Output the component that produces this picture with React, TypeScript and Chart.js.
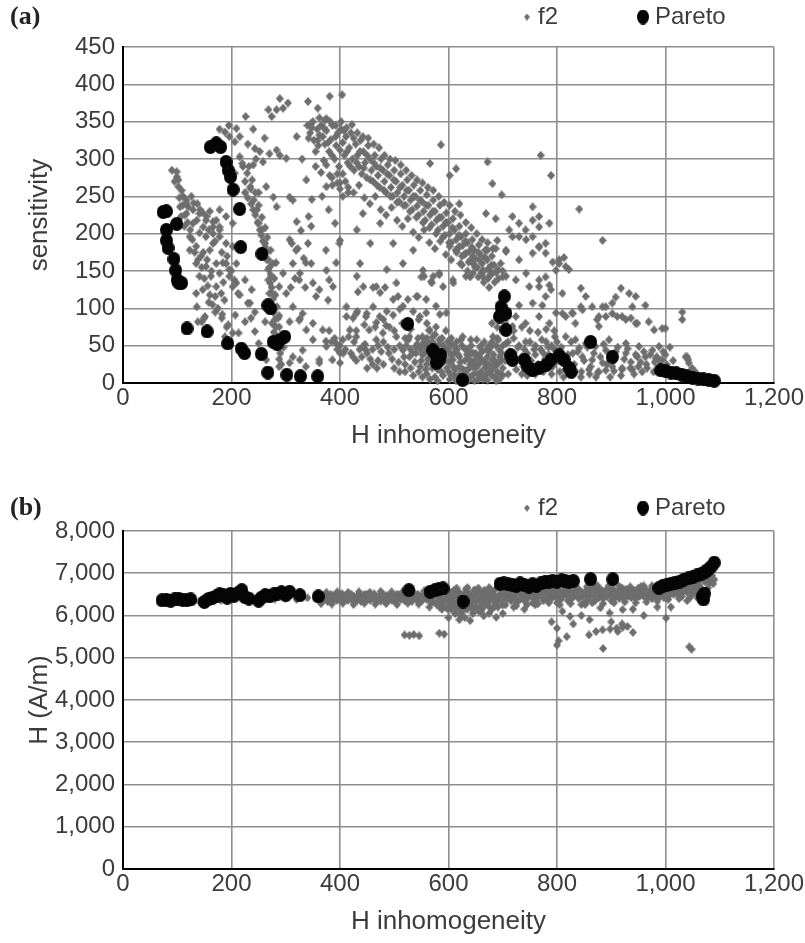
import React, { useEffect, useRef } from "react";
import { Chart, registerables } from "chart.js";

Chart.register(...registerables);

// ---- Panel (a): sensitivity vs H inhomogeneity ----
const sensitivityF2: [number, number][] = [
  // upper arch
  [178,340],[188,336],[196,330],[206,323],[209,341],[215,330],[226,357],[240,340],[243,314],[252,310],[261,328],[268,366],[274,357],[283,366],[295,368],[289,381],[304,375],[270,307],[283,312],[289,305],[301,301],[341,377],[359,368],[375,354],[381,384],[404,386],[215,303],[221,290],[240,292],[258,296],[206,281],[264,263],[277,249],[283,236],[307,249],[313,245],[338,272],[347,348],[359,325],[370,298],[381,278],[386,265],[400,268],[375,263],[195,345],[230,320],[245,300],[320,330],[330,300],[225,270],[235,260],[250,255],
  // long diagonal band
  [340,345],[345,335],[350,350],[352,325],[358,340],[360,318],[355,310],
  [365,345],[368,330],[372,320],[375,338],[380,310],[383,326],[386,345],[390,300],[393,318],[396,335],[398,290],
  [402,340],[405,322],[408,305],[411,330],[414,295],[417,315],[420,335],[423,300],[426,285],[429,320],[432,305],[435,290],[438,325],[440,280],
  [443,310],[446,295],[449,275],[452,318],[455,300],[458,285],[461,270],[464,305],[467,290],[470,278],[473,262],[476,300],[479,285],
  [482,270],[485,255],[488,292],[491,278],[494,262],[497,250],[500,285],[503,270],[506,255],[509,243],[512,280],[515,265],[518,250],
  [521,238],[524,272],[527,258],[530,245],[533,232],[536,265],[539,250],[542,237],[545,225],[548,258],[551,243],[554,230],[557,218],
  [560,252],[563,238],[566,225],[569,212],[572,245],[575,230],[578,218],[581,205],[584,238],[587,222],[590,210],[593,198],[596,228],[599,215],
  [602,200],[605,188],[608,220],[611,205],[614,192],[617,180],[620,210],[623,196],[626,184],[629,172],[632,200],[635,188],[638,176],[641,165],[644,192],[647,178],
  [650,166],[653,155],[656,185],[659,172],[662,160],[665,150],[668,178],[671,165],[674,154],[677,145],[680,170],[684,158],[688,148],[692,140],[696,160],[700,150],
  [342,328],[348,342],[362,332],[370,342],[378,322],[385,305],[392,330],[400,312],[407,338],[413,310],[419,290],[425,328],[431,295],[437,310],[444,288],[450,305],[456,272],[462,295],[468,265],[474,288],[481,258],[487,280],[493,250],[499,272],[505,242],[511,262],[517,238],[523,258],[529,230],[535,250],[541,222],[547,245],[553,215],[559,238],[565,208],[571,230],[577,200],[583,222],[589,195],[595,215],[601,188],[607,208],[613,178],[619,198],[625,170],[631,190],[637,162],[643,182],[649,155],[655,175],[661,148],[667,168],[673,140],[679,158],[685,135],[691,152],
  [355,290],[365,282],[375,292],[385,275],[395,268],[405,280],[415,262],[425,255],[435,265],[445,248],[455,240],[465,250],[475,232],[485,225],[495,235],[505,218],[515,210],[525,220],[535,202],[545,195],[555,205],[565,188],[575,180],[585,190],[595,172],[605,165],[615,175],[625,158],[635,150],[645,160],[655,142],[665,135],[675,128],
  [362,355],[372,352],[382,350],[392,345],[402,350],[412,342],[422,346],[432,335],[442,330],[452,328],[462,320],[472,315],[482,305],[492,300],[502,298],[512,292],[522,285],[532,278],[542,272],[552,268],[562,262],[572,258],[582,250],[592,242],[602,238],[612,230],[622,225],[632,215],[642,208],[652,200],[662,192],[672,188],[682,180],
  [400,260],[405,250],[410,270],[395,280],[415,255],
  // scattered middle
  [442,227],[431,205],[456,187],[474,214],[498,187],[516,160],[535,178],[553,151],[572,143],[590,129],[486,152],[504,134],[467,129],[443,129],[431,143],[437,160],[541,116],[559,112],[577,103],[596,94],[516,103],[498,112],[474,121],
  [348,246],[342,223],[367,250],[379,232],[391,214],
  [320,216],[328,204],[311,187],[341,187],[347,210],[322,180],[333,167],[347,160],[375,151],[387,129],[400,191],[350,134],[326,147],[313,160],[317,140],[309,128],[336,128],[356,116],[378,111],[412,102],[430,93],[448,89],[467,81],[485,77],[307,82],[326,86],[338,71],[350,58],[375,49],[400,40],[362,31],[326,31],[307,27],[400,27],[424,35],[448,44],
  [136,102],[151,89],[145,82],[191,75],[202,67],[234,107],[236,87],[215,118],[209,134],[196,152],[184,161],[282,161],[295,147],[288,129],[301,120],[313,102],[331,93],[325,84],[350,80],[368,71],[374,56],[393,53],[331,44],[313,35],[288,22],[337,22],[362,27],[386,31],[264,31],[258,40],[276,80],[288,75],[362,125],[380,138],[393,161],[374,178],[399,187],[337,161],[319,178],[307,192],[325,138],
  // left loop
  [90,285],[99,276],[102,263],[111,250],[120,236],[129,232],[141,227],[153,218],[166,209],[178,196],[190,187],[107,223],[113,210],[123,196],[135,183],[144,170],[153,156],[162,143],[172,129],[181,120],[187,111],[117,241],[129,214],[141,201],[123,178],[135,160],[141,143],[147,125],[135,120],[160,178],[172,160],[178,147],[166,187],[153,196],[190,160],[196,143],[202,129],[209,160],[202,183],[190,223],[202,214],[178,232],
  [99,283],[102,272],[108,258],[117,245],[130,241],[142,232],[154,223],[166,216],[178,209],[105,236],[117,227],[136,218],[148,209],[166,200],[178,205],
  [95,270],[104,248],[110,238],[114,225],[119,215],[124,205],[128,192],[132,175],[138,165],[145,155],[150,140],[156,130],[160,118],[165,105],[175,100],[183,92],[126,250],[137,240],[147,228],[158,205],[170,190],[182,175],[192,170],[200,150],[205,138],[212,120],[148,175],[155,165],[163,150],[185,135],[160,230],[172,218],
  [158,108],[170,95],[182,87],[194,78],[207,91],[225,82],[243,69],[188,62],[213,67],[250,53],[170,116],[150,87],[138,82],
  // descending arm
  [220,294],[229,281],[235,263],[241,245],[247,232],[250,214],[256,205],[262,187],[265,165],[268,152],[271,134],[274,121],[277,95],[286,87],[262,82],[243,95],[230,107],[237,125],[225,138],
  [225,255],[230,248],[236,240],[240,232],[244,225],[248,215],[252,205],[255,198],[258,190],[262,182],[265,175],[268,165],[270,155],[272,145],[268,138],[274,128],[270,120],[276,112],[278,95],[280,85],[282,75],[278,68],[285,48],[290,40],[288,32],[292,25],[283,55],[275,80],
  [232,290],[238,272],[244,255],[250,238],[256,222],[262,208],[266,195],[272,178],[276,160],[279,140],[281,118],[284,102],[288,90],[292,62],[296,48],
  // right cluster and outliers
  [586,319],[672,296],[770,305],[789,278],[841,233],[884,191],[614,287],[602,278],[566,294],[681,267],[698,252],[620,240],[669,227],[687,220],[690,191],[672,178],[706,178],[664,142],[640,142],[622,160],[602,183],[583,145],[555,143],[569,134],[609,134],
  [718,223],[730,214],[742,205],[755,196],[767,182],[779,174],[730,196],[712,205],[755,218],[767,209],[786,214],[755,236],[767,223],[792,162],[804,165],[816,156],[798,151],[779,142],[767,129],
  [675,151],[700,142],[724,138],[749,129],
  [620,183],[632,174],[645,170],[657,165],[669,178],[687,180],[706,176],[718,196],[743,192],[730,165],[755,174],[767,183],[779,187],[743,147],[767,138],[786,131],[645,147],[663,151],[681,147],[706,143],[632,143],[608,138],
  [433,122],[461,128],[483,128],[507,116],[525,112],[543,116],[550,142],[568,136],[583,147],
  [412,89],[432,96],[461,102],[486,96],[510,99],[535,96],[559,94],[584,92],[424,87],[449,93],[473,89],[498,91],[547,89],
  // lower dense band
  [405,58],[418,71],[430,62],[442,49],[454,71],[467,58],[479,67],[491,75],[504,62],[516,44],[528,35],[540,49],[552,62],[565,71],[577,75],[583,58],[596,44],[608,31],[620,22],[632,17],[645,26],[657,35],[669,22],[681,31],[694,44],[706,53],
  [844,127],[853,116],[884,102],[902,107],[918,127],[933,120],[945,116],[963,104],[939,102],[890,89],[911,89],[927,85],[945,80],[979,71],[994,73],[1031,95],[1031,85],[1037,35],[1042,31],
  [789,125],[810,120],[779,116],[755,107],[730,104],[773,104],[798,94],[810,93],[828,94],[844,102],[874,85],[877,76],[786,80],[767,89],[742,80],[724,89],[718,76],
  [804,160],[813,168],[822,152],[847,98],[829,93],[816,89],[834,80],[877,89],[902,93],[920,89],[936,87],[948,80],[969,82],[1000,73],[908,115],[890,102],[865,102],
  [816,62],[834,58],[853,53],[871,49],[890,44],[908,42],[927,40],[945,38],[963,35],[982,33],[994,31],[829,40],[847,35],[865,31],[884,27],[902,22],[920,20],[939,18],[957,15],[859,18],[877,15],[841,47],[896,58],[927,53],[951,49],[976,44],[988,49],[1000,38],[1040,35],[1043,27],[1049,20],[1055,15],
  [560,60],[570,55],[590,50],[600,45],[610,40],[620,35],[630,30],[640,25],[650,20],[660,15],[670,12],[600,15],[610,10],[620,12],[640,8],[655,5],[665,8],[680,10],[690,15],[700,20],[540,40],[550,30],[560,25],[570,20],[545,15],[555,55],[565,70],[575,65],[595,70],[605,60],[615,55],[625,50],[635,45],[645,40],[655,35],[665,30],[675,25],[685,30],[695,35],[660,50],[670,45],[680,55],[690,60],[700,50],[710,55],[720,60],[730,50],[740,45],[750,55],[760,50],[770,45],[780,55],[790,50],[800,55],[720,40],[735,35],[745,40],[760,38],[775,40],[785,38],[795,45],[720,70],[735,75],[750,70],[765,68],[780,72],[795,70],[705,80],[690,75],[680,80],[700,10],[710,12],[725,18],[735,12],[745,10],[760,12],[775,15],[790,12],[805,15],[815,18],[830,12],[845,15],[860,12],[875,14],[890,17],[905,16],[920,18],[935,20],[950,22],[965,25],[980,28],[990,30],[520,60],[510,50],[500,45],[490,40],[480,55],[470,50],[460,45],[450,40],[440,35],[430,30],[420,40],[410,45],[400,50],[390,60],[380,70],[470,30],[480,25],[500,20],[510,15],[520,25],[530,20],[460,25],[450,20],[500,70],[515,80],[530,72],[545,85],[560,80],[480,85],[465,75],[445,78],[430,70],
  [542,52],[548,45],[552,38],[558,48],[562,32],[566,42],[572,28],[576,50],[580,18],[586,25],[588,60],[592,35],[597,20],[603,28],[606,52],[612,18],[616,45],[622,28],[626,62],[628,8],[634,38],[636,18],[642,50],[646,12],[648,30],[652,58],[656,25],[662,42],[664,5],[668,20],[672,35],[676,15],[678,48],[684,22],[686,8],[692,28],[696,12],[698,40],[602,5],[614,3],[636,3],[648,3],[672,4],[688,3],[590,10],[575,8],[560,12],[548,22],[530,45],[526,58],[518,35],[508,28],[496,32],[488,48],[476,42],[468,20],[456,32],[446,52],[436,45],[426,55],[416,62],[406,40],[395,45],[384,55],
  [522,50],[528,62],[534,40],[538,28],[544,60],[550,50],[556,40],[561,55],[567,35],[571,62],[578,42],[583,52],[587,15],[593,45],[598,55],[604,38],[609,22],[611,48],[618,38],[623,58],[627,18],[631,45],[638,32],[641,58],[644,22],[650,40],[654,12],[658,48],[661,30],[666,55],[670,25],[674,42],[680,18],[683,38],[688,50],[690,25],[694,5],[698,30],[604,12],[596,30],[584,40],[570,45],[558,18],[616,8],[630,12],[642,40],[660,8],[675,50],[682,62],[692,58],[520,15],[535,10],[552,8],[566,5],[580,3],
  [705,30],[712,42],[722,28],[728,48],[738,22],[742,55],[752,30],[758,45],[765,25],[772,58],[778,32],[784,48],[792,22],[796,62],[802,30],[808,48],[812,8],[820,38],[826,55],[832,25],[838,42],[844,8],[850,30],[856,48],[862,22],[868,40],[872,8],[880,35],[886,52],[892,25],[898,8],[905,30],[912,48],[918,10],[924,32],[930,46],[936,28],[942,12],[948,35],[954,28],[960,42],[966,20],[972,38],[978,15],[984,35],[990,22],[996,42],[1002,25],[1008,48],[1014,30],
];

const sensitivityPareto: [number, number][] = [
  [74,229],[80,230],[99,213],[80,205],[80,191],[83,181],[94,166],[97,151],[100,138],[108,134],[103,134],[118,73],[155,69],
  [161,316],[172,321],[180,316],[190,296],[194,285],[198,276],[203,259],[215,233],[217,182],[256,173],
  [193,53],[218,46],[224,40],[255,39],[267,104],[272,100],[267,14],[277,55],[289,58],[298,62],[284,52],[302,11],[327,9],[359,9],
  [525,79],[571,44],[580,36],[583,31],[578,27],[575,40],[585,38],[626,4],
  [703,116],[697,102],[706,93],[694,89],[706,71],[715,37],[718,31],[740,31],[746,22],[755,17],[767,20],[780,24],[789,31],
  [804,37],[813,31],[823,20],[826,15],[862,55],[902,35],
  [991,17],[1000,16],[1010,14],[1020,13],[1030,11],[1040,9],[1050,7],[1060,6],[1070,5],[1080,4],[1090,3],
];

// ---- Panel (b): H (A/m) vs H inhomogeneity ----
const fieldF2: [number, number][] = [
  [100,6330],[120,6360],[140,6340],[160,6380],[180,6360],[200,6400],[220,6380],[240,6370],[260,6400],[280,6390],[300,6410],[320,6380],[340,6420],[150,6420],[250,6450],[330,6460],
  [360,6420],[370,6380],[380,6450],[390,6400],[400,6430],[410,6370],[420,6460],[430,6410],[440,6380],[450,6440],[460,6400],[470,6360],[480,6450],[490,6410],[500,6380],[510,6440],[520,6400],[530,6350],[540,6460],[550,6420],[560,6380],[365,6480],[385,6350],[405,6490],[425,6340],[445,6500],[465,6470],[485,6340],[505,6500],[525,6480],[545,6330],[555,6510],
  [362,6350],[368,6440],[374,6500],[378,6390],[384,6430],[388,6470],[394,6360],[398,6450],[404,6400],[408,6350],[412,6480],[416,6420],[422,6390],[426,6450],[432,6360],[436,6470],[442,6420],[447,6350],[452,6400],[456,6480],[462,6430],[466,6390],[472,6450],[476,6410],[482,6370],[486,6480],[492,6440],[496,6350],[502,6420],[506,6460],[512,6380],[516,6490],[522,6430],[527,6370],[532,6410],[536,6500],[542,6390],[547,6440],[552,6360],[557,6470],
  [363,6400],[371,6460],[377,6330],[383,6500],[391,6440],[397,6380],[403,6510],[409,6440],[415,6360],[421,6500],[427,6400],[433,6470],[439,6330],[443,6450],[449,6500],[455,6360],[459,6440],[463,6510],[469,6420],[475,6340],[479,6500],[483,6420],[489,6360],[493,6500],[499,6450],[503,6330],[509,6480],[513,6420],[519,6350],[523,6510],[529,6450],[533,6340],[539,6420],[544,6500],[549,6370],[553,6450],[559,6530],
  [365,6280],[385,6270],[405,6290],[425,6260],[445,6290],[465,6270],[485,6280],[505,6260],[525,6290],[545,6270],[375,6550],[395,6560],[415,6550],[435,6560],[455,6550],[475,6570],[495,6560],[515,6560],[535,6570],[555,6580],
  [570,6500],[575,6300],[580,6450],[585,6250],[590,6550],[595,6200],[600,6500],[600,6350],[605,6150],[610,6450],[612,6050],[615,6300],[620,6550],[622,6000],[625,6250],[628,6400],[630,5950],[635,6150],[640,6500],[640,6300],[645,6050],[650,6600],[650,6200],[655,6400],[660,6100],[665,6550],[670,6300],[675,6450],[680,6150],[685,6600],[690,6350],[695,6500],[700,6250],[590,6350],[610,6600],[632,6620],[660,6480],[675,6050],[700,6050],[688,5960],[640,5880],[620,5900],[665,5990],[600,5950],
  [562,6550],[566,6400],[568,6300],[572,6450],[578,6600],[582,6350],[586,6480],[588,6150],[592,6420],[597,6580],[602,6280],[606,6420],[608,6550],[613,6200],[617,6450],[618,6350],[624,6480],[626,6100],[631,6380],[634,6550],[637,6250],[642,6420],[644,6150],[648,6480],[652,6330],[657,6550],[658,6200],[662,6420],[667,6380],[672,6500],[674,6220],[678,6580],[682,6400],[686,6280],[692,6450],[696,6350],[698,6600],
  [563,6450],[569,6350],[574,6550],[579,6250],[583,6500],[589,6300],[594,6450],[599,6150],[604,6550],[609,6300],[614,6500],[619,6150],[623,6350],[629,6500],[633,6250],[638,6450],[643,6350],[647,6600],[653,6450],[656,6100],[661,6300],[666,6600],[671,6450],[676,6350],[681,6550],[687,6450],[691,6200],[697,6400],
  [565,6200],[585,6180],[605,6230],[625,6180],[645,6220],[665,6200],[685,6220],[575,6620],[595,6640],[615,6650],[635,6660],[655,6650],[675,6660],[695,6680],
  [705,6600],[710,6450],[715,6350],[720,6550],[725,6300],[730,6650],[735,6450],[740,6350],[745,6600],[750,6500],[755,6300],[760,6650],[765,6450],[770,6550],[775,6350],[780,6700],[785,6500],[790,6400],[795,6600],[800,6300],[805,6550],[810,6450],[815,6650],[820,6350],[825,6550],[830,6450],[835,6650],[840,6400],[845,6550],[850,6300],[855,6600],[860,6450],[865,6550],[870,6350],[875,6650],[880,6500],[885,6400],[890,6600],[895,6500],[900,6350],[905,6600],[910,6500],[915,6400],[920,6650],[925,6550],[930,6450],[935,6600],[940,6500],[945,6400],[950,6650],[955,6550],[960,6450],[965,6600],[970,6500],[975,6400],[980,6650],[985,6550],[990,6450],[995,6600],[1000,6500],[720,6200],[740,6150],[760,6250],[725,6700],[870,6700],[900,6700],[960,6700],
  [702,6500],[707,6380],[712,6600],[717,6480],[722,6420],[727,6560],[732,6380],[737,6600],[742,6480],[747,6420],[752,6580],[757,6480],[762,6380],[767,6620],[772,6450],[777,6550],[782,6400],[787,6620],[792,6520],[797,6450],[802,6620],[807,6380],[812,6550],[817,6480],[822,6620],[827,6400],[832,6550],[837,6500],[842,6600],[847,6450],[852,6550],[857,6380],[862,6620],[867,6480],[872,6550],[877,6420],[882,6600],[887,6500],[892,6450],[897,6620],[902,6480],[907,6420],[912,6580],[917,6500],[922,6420],[927,6620],[932,6520],[937,6420],[942,6600],[947,6520],[952,6450],[957,6600],[962,6520],[967,6420],[972,6600],[977,6520],[982,6450],[987,6600],[992,6520],[997,6420],
  [704,6450],[714,6500],[724,6500],[734,6550],[744,6500],[754,6450],[764,6550],[774,6480],[784,6580],[794,6500],[804,6480],[814,6580],[824,6500],[834,6580],[844,6500],[854,6480],[864,6600],[874,6520],[884,6560],[894,6560],[904,6540],[914,6480],[924,6500],[934,6560],[944,6560],[954,6500],[964,6550],[974,6560],[984,6500],[994,6550],
  [705,6250],[725,6230],[745,6260],[765,6280],[785,6300],[805,6250],[825,6280],[845,6260],[865,6300],[885,6280],[905,6300],[925,6320],[945,6300],[965,6320],[985,6340],[715,6700],[735,6690],[755,6700],[775,6660],[795,6700],[815,6700],[835,6700],[855,6680],[875,6700],[895,6700],[915,6690],[935,6680],[955,6690],[975,6700],[995,6680],
  [1005,6450],[1010,6600],[1015,6500],[1020,6700],[1025,6550],[1030,6450],[1035,6650],[1040,6550],[1045,6750],[1050,6600],[1055,6500],[1060,6800],[1065,6650],[1070,6550],[1075,6900],[1080,6750],[1085,6950],[1090,6850],[1060,6400],[1040,6350],
  [1002,6600],[1008,6520],[1012,6700],[1018,6600],[1022,6500],[1028,6650],[1032,6550],[1038,6700],[1042,6620],[1048,6520],[1052,6700],[1058,6620],[1062,6720],[1068,6600],[1072,6800],[1078,6650],[1082,6850],[1088,6750],
  [1005,6380],[1025,6400],[1045,6420],[1065,6500],
  [519,5540],[528,5530],[536,5550],[546,5520],[583,5580],[592,5560],[800,5700],[803,5400],[818,5500],[824,5980],[800,5300],[852,6260],[880,6180],[897,6060],[859,5540],[872,5620],[884,5660],[898,5680],[910,5700],[921,5720],[930,5740],[921,6140],[885,5220],[912,5620],[920,5800],[940,5600],[1044,5260],[1048,5200],[1001,5940],[1010,6200],[790,5850],[810,6100],[830,5800],[845,6000],[860,5900],[900,5850],[940,6150],[960,6000],[985,6200],
];

const fieldPareto: [number, number][] = [
  [72,6360],[80,6370],[88,6350],[95,6380],[102,6400],[110,6370],[118,6360],[125,6380],[150,6320],[158,6390],[165,6420],[172,6450],[178,6500],[185,6480],[192,6420],[198,6510],[205,6470],[212,6530],[219,6600],[225,6440],[232,6400],[250,6350],[255,6420],[262,6480],[270,6450],[278,6500],[285,6520],[292,6550],[300,6480],[307,6560],[326,6480],[360,6450],
  [527,6600],[566,6560],[575,6600],[582,6620],[590,6640],[627,6330],
  [695,6750],[702,6760],[710,6740],[718,6720],[725,6700],[732,6760],[740,6720],[748,6680],[755,6740],[762,6700],[770,6760],[778,6790],[785,6800],[792,6820],[800,6800],[808,6830],[815,6810],[822,6800],[830,6820],[862,6860],[903,6860],
  [988,6650],[995,6700],[1002,6720],[1010,6750],[1018,6780],[1026,6800],[1034,6850],[1042,6880],[1050,6900],[1058,6950],[1066,6980],[1072,7020],[1078,7080],[1084,7150],[1090,7250],[1068,6450],[1070,6380],[1072,6520],
];

const xRange = [0, 1200];
const xStep = 200;
const xTitle = "H inhomogeneity";
const seriesNames = ["f2", "Pareto"];

const SANS = "'Liberation Sans Narrow', 'Liberation Sans', Arial, sans-serif";
const TEXT = "#3c3c3c";
const GRID = "#8e8e8e";
const F2_COLOR = "#6e6e6e";

function marker(w: number, h: number, color: string, shape: "diamond" | "ellipse") {
  const c = document.createElement("canvas");
  c.width = w;
  c.height = h;
  const g = c.getContext("2d")!;
  g.fillStyle = color;
  g.beginPath();
  if (shape === "diamond") {
    g.moveTo(w / 2, 0);
    g.lineTo(w, h / 2);
    g.lineTo(w / 2, h);
    g.lineTo(0, h / 2);
    g.closePath();
  } else {
    g.ellipse(w / 2, h / 2, w / 2, h / 2, 0, 0, Math.PI * 2);
  }
  g.fill();
  return c;
}

const fmt = (v: number | string) => Number(v).toLocaleString("en-US");

interface PanelProps {
  label: string;
  yTitle: string;
  yMax: number;
  yStep: number;
  f2: [number, number][];
  pareto: [number, number][];
  height: number;
  areaTop: number;
  areaBottom: number;
  headerY: number;
}

function Panel(p: PanelProps) {
  const ref = useRef<HTMLCanvasElement>(null);
  useEffect(() => {
    const canvas = ref.current!;
    const f2Img = marker(8, 9, F2_COLOR, "diamond");
    const parImg = marker(13, 14, "#050505", "ellipse");
    const legF2 = marker(6, 7, F2_COLOR, "diamond");
    const legPar = marker(12, 15, "#050505", "ellipse");

    const header = {
      id: "panelHeader",
      afterDraw(chart: Chart) {
        const ctx = chart.ctx;
        ctx.save();
        ctx.textBaseline = "middle";
        ctx.fillStyle = "#222";
        ctx.font = "bold 26px 'Liberation Serif', serif";
        ctx.fillText(p.label, 10, p.headerY);
        ctx.drawImage(legF2, 527 - 3, p.headerY - 3.5);
        ctx.drawImage(legPar, 643 - 6, p.headerY - 7.5);
        ctx.fillStyle = TEXT;
        ctx.font = `24px ${SANS}`;
        ctx.fillText(seriesNames[0], 538, p.headerY);
        ctx.fillText(seriesNames[1], 655, p.headerY);
        ctx.restore();
      },
    };

    const chart = new Chart(canvas, {
      type: "scatter",
      data: {
        datasets: [
          {
            label: seriesNames[1],
            data: p.pareto.map(([x, y]) => ({ x, y })),
            pointStyle: parImg as any,
            pointRadius: 6,
            order: 0,
            clip: false as any,
          },
          {
            label: seriesNames[0],
            data: p.f2.map(([x, y]) => ({ x, y })),
            pointStyle: f2Img as any,
            pointRadius: 3,
            order: 1,
            clip: false as any,
          },
        ],
      },
      options: {
        responsive: false,
        animation: false,
        events: [],
        layout: { padding: { left: 0, right: 30, top: p.areaTop, bottom: 0 } },
        plugins: { legend: { display: false }, tooltip: { enabled: false } },
        scales: {
          x: {
            type: "linear",
            min: xRange[0],
            max: xRange[1],
            ticks: {
              stepSize: xStep,
              callback: (v: any) => fmt(v),
              font: { family: SANS, size: 24 },
              color: TEXT,
              padding: 1,
              maxRotation: 0,
              autoSkip: false,
            },
            grid: { color: GRID, lineWidth: 1.6, drawTicks: false },
            border: { display: true, color: "#000", width: 2 },
            title: {
              display: true,
              text: xTitle,
              font: { family: SANS, size: 26 },
              color: TEXT,
              padding: { top: 0, bottom: 6 },
            },
            afterFit: (s: any) => {
              s.height = p.height - p.areaBottom;
            },
          },
          y: {
            type: "linear",
            min: 0,
            max: p.yMax,
            ticks: {
              stepSize: p.yStep,
              callback: (v: any) => fmt(v),
              font: { family: SANS, size: 24 },
              color: TEXT,
              padding: 8,
            },
            grid: { color: GRID, lineWidth: 1.6, drawTicks: false },
            border: { display: true, color: "#000", width: 2 },
            title: {
              display: true,
              text: p.yTitle,
              font: { family: SANS, size: 26 },
              color: TEXT,
              padding: { top: 24, bottom: 0 },
            },
            afterFit: (s: any) => {
              s.width = 123;
            },
          },
        },
      },
      plugins: [header],
    });
    return () => chart.destroy();
  }, []);
  return <canvas ref={ref} width={805} height={p.height} style={{ display: "block" }} />;
}

export default function App() {
  return (
    <div style={{ position: "absolute", left: 0, top: 0, width: 805, height: 943, background: "#fff" }}>
      <Panel
        label="(a)"
        yTitle="sensitivity"
        yMax={450}
        yStep={50}
        f2={sensitivityF2}
        pareto={sensitivityPareto}
        height={457}
        areaTop={47}
        areaBottom={383}
        headerY={17}
      />
      <Panel
        label="(b)"
        yTitle="H (A/m)"
        yMax={8000}
        yStep={1000}
        f2={fieldF2}
        pareto={fieldPareto}
        height={486}
        areaTop={74}
        areaBottom={412}
        headerY={51}
      />
    </div>
  );
}
